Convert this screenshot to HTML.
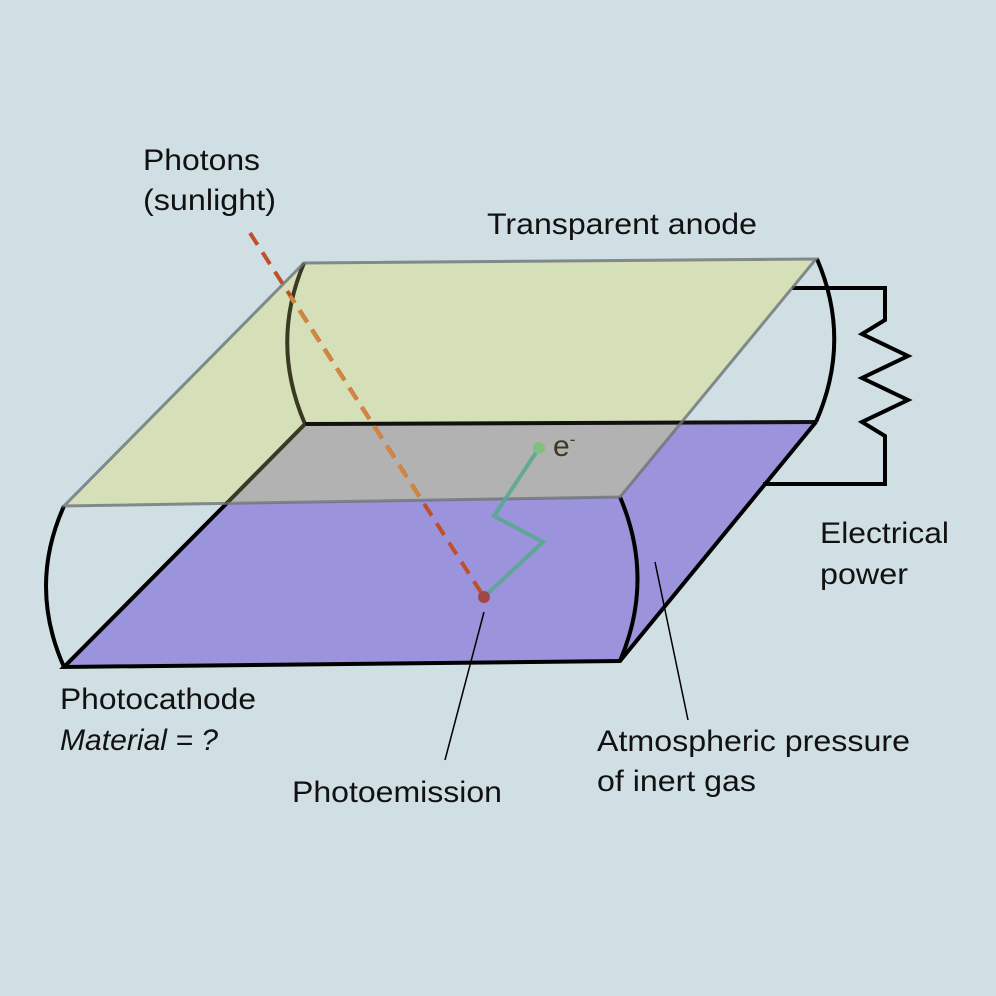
<!DOCTYPE html>
<html><head><style>body{margin:0;background:#d0dfe3}svg{display:block}text{font-family:"Liberation Sans",Arial,sans-serif;font-size:30px;fill:#111}</style></head><body>
<svg width="996" height="996" viewBox="0 0 996 996">
<rect width="996" height="996" fill="#d0dfe3"/>
<polygon points="64,667 620,661 816,422 305,424" fill="#9b93db"/>
<polygon points="304,263 816,259 620,497 64,506" fill="#d6e0b8"/>
<polygon points="305,424 681,423 620,497 228,502" fill="#b3b2b3"/>
<g fill="none" stroke-width="4">
<path d="M304,263 Q270,343 305,424" stroke="#3a3a22"/>
<path d="M305,424 L816,422" stroke="#111"/>
<path d="M305,424 L228,502" stroke="#3a3a22"/>
<path d="M228,502 L64,667 L620,661 L816,422" stroke="#000"/>
<path d="M817,259 Q852,340 816,422" stroke="#000"/>
<path d="M64,506 Q28,586 64,667" stroke="#000"/>
<path d="M620,497 Q655,579 620,661" stroke="#000"/>
<path d="M792,288 H885 V320 L862,334 L908,356 L862,378 L908,400 L862,422 L885,436 V484 H763" stroke="#000"/>
<path d="M304,263 L816,259 L620,497 L64,506 Z" stroke="#6b7378" stroke-opacity="0.8" stroke-width="3"/>
<line x1="250" y1="233" x2="484" y2="597" stroke="#c0502a" stroke-dasharray="14,9"/>
<line x1="290" y1="296" x2="420" y2="498" stroke="#d08840" stroke-dasharray="14,9" stroke-dashoffset="6"/>
<path d="M484,597 L543,542 L494,516 L539,448" stroke="#5aa890" stroke-opacity="0.9"/>
</g>
<circle cx="484" cy="597" r="6" fill="#a04848"/>
<circle cx="539" cy="448" r="6" fill="#7fc080"/>
<line x1="484" y1="612" x2="445" y2="760" stroke="#000" stroke-width="1.5"/>
<line x1="655" y1="562" x2="688" y2="720" stroke="#000" stroke-width="1.5"/>
<text x="553" y="456" style="fill:#3a3a22">e<tspan dy="-11" font-size="17">-</tspan></text>
<text x="143" y="170" textLength="117" lengthAdjust="spacingAndGlyphs">Photons</text>
<text x="143" y="210" textLength="133" lengthAdjust="spacingAndGlyphs">(sunlight)</text>
<text x="487" y="234" textLength="270" lengthAdjust="spacingAndGlyphs">Transparent anode</text>
<text x="820" y="543" textLength="129" lengthAdjust="spacingAndGlyphs">Electrical</text>
<text x="820" y="584" textLength="88" lengthAdjust="spacingAndGlyphs">power</text>
<text x="60" y="709" textLength="196" lengthAdjust="spacingAndGlyphs">Photocathode</text>
<text x="60" y="750" font-style="italic" textLength="158" lengthAdjust="spacingAndGlyphs">Material = ?</text>
<text x="292" y="802" textLength="210" lengthAdjust="spacingAndGlyphs">Photoemission</text>
<text x="597" y="751" textLength="313" lengthAdjust="spacingAndGlyphs">Atmospheric pressure</text>
<text x="597" y="791" textLength="159" lengthAdjust="spacingAndGlyphs">of inert gas</text>
</svg>
</body></html>
